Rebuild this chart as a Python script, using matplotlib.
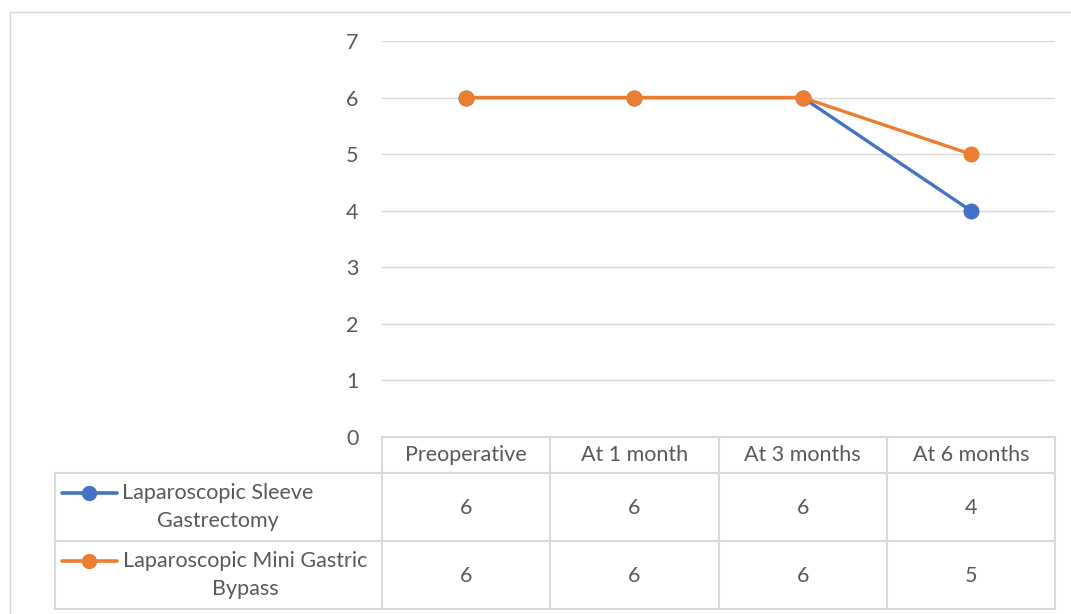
import matplotlib.pyplot as plt
from matplotlib.lines import Line2D

plt.rcParams['font.family'] = ['Lato', 'DejaVu Sans']

# Scores per follow-up point
categories = ['Preoperative', 'At 1 month', 'At 3 months', 'At 6 months']
series_names = ['Laparoscopic Sleeve\nGastrectomy', 'Laparoscopic Mini Gastric\nBypass']
sleeve = [6, 6, 6, 4]
mini_bypass = [6, 6, 6, 5]
series = [sleeve, mini_bypass]
colors = ['#4472C4', '#ED7D31']

W, H = 1071, 614
fig = plt.figure(figsize=(W / 100, H / 100), dpi=100)
txt = '#595959'
grid = '#D9D9D9'
fs = 15.5

def fx(px):
    return px / W

def fy(py):
    return 1 - py / H

# outer chart border
fig.add_artist(Line2D([fx(10), 1], [fy(12), fy(12)], color=grid, lw=1))
fig.add_artist(Line2D([fx(10), fx(10)], [fy(12), 0], color=grid, lw=1))

# plot area
left, right, top, bottom = 382, 1055, 41, 437
ax = fig.add_axes([fx(left), fy(bottom), fx(right - left), (bottom - top) / H])
x = list(range(len(categories)))
for vals, c in zip(series, colors):
    ax.plot(x, vals, color=c, lw=2.4, marker='o', ms=10.5, solid_capstyle='round')
ax.set_xlim(-0.5, len(categories) - 0.5)
ax.set_ylim(0, 7)
ax.set_yticks(range(8))
ax.yaxis.grid(True, color=grid, lw=1)
ax.set_axisbelow(True)
ax.set_xticks([])
ax.tick_params(axis='y', length=0, pad=17, labelsize=fs, labelcolor=txt)
for s in ax.spines.values():
    s.set_visible(False)

# data table below the plot
tab = fig.add_axes([fx(55), fy(609), fx(1055 - 55), (609 - bottom) / H])
tab.set_xlim(55, 1055)
tab.set_ylim(609, bottom)
tab.axis('off')
col_w = (right - left) / len(categories)
hdr_b, row_h = 473, 68
kw = dict(color=grid, lw=1.5, clip_on=False)

# header row
tab.plot([left, right], [bottom, bottom], **kw)
for i in range(len(categories) + 1):
    xe = left + i * col_w
    tab.plot([xe, xe], [bottom, 609], **kw)
for i, cat in enumerate(categories):
    tab.text(left + (i + 0.5) * col_w, (bottom + hdr_b) / 2, cat, ha='center', va='center',
             fontsize=fs, color=txt)

# series rows
for r, (name, vals, c) in enumerate(zip(series_names, series, colors)):
    y0 = hdr_b + r * row_h
    tab.plot([55, right], [y0, y0], **kw)
    tab.plot([55, 55], [y0, y0 + row_h], **kw)
    ly = y0 + 20
    tab.plot([62, 117], [ly, ly], color=c, lw=2.6, solid_capstyle='round')
    tab.plot([89], [ly], marker='o', ms=10, color=c)
    cx = 218 if r == 0 else 245
    tab.text(cx, y0 + 34, name, ha='center', va='center', fontsize=fs, color=txt,
             linespacing=1.55)
    for i, v in enumerate(vals):
        tab.text(left + (i + 0.5) * col_w, y0 + row_h / 2 + 1, str(v), ha='center', va='center',
                 fontsize=fs, color=txt)
tab.plot([55, right], [609, 609], **kw)

fig.savefig('out.png', dpi=100, facecolor='white')
